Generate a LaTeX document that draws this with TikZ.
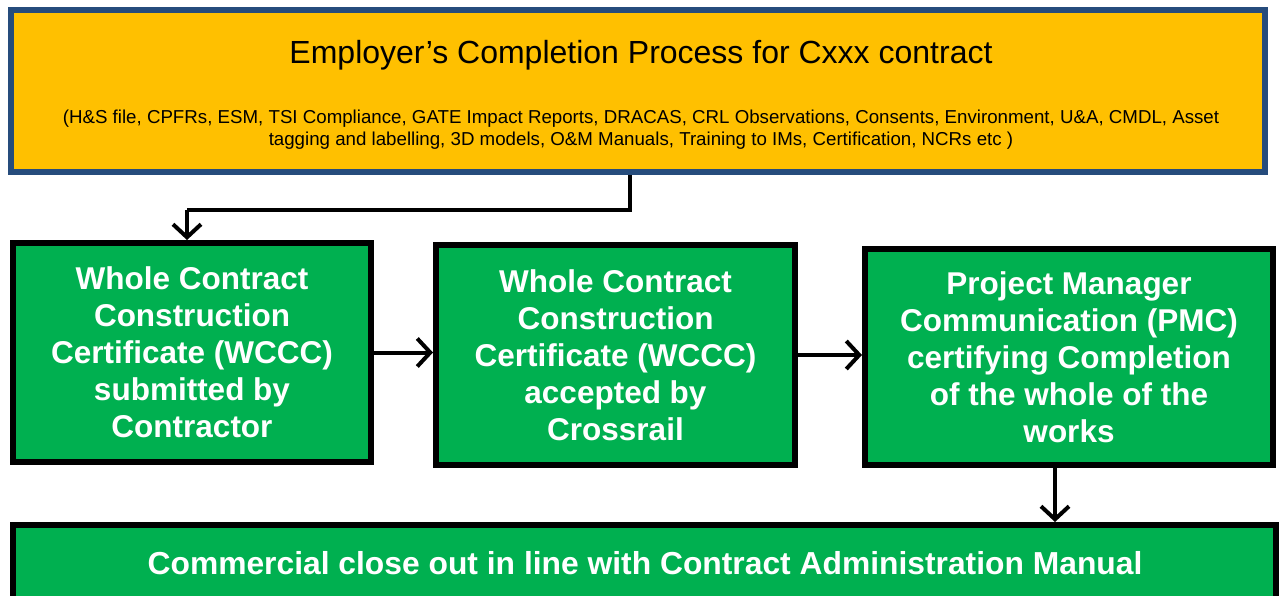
\documentclass[tikz,border=0pt]{standalone}
\usepackage{fontspec}
\setmainfont{Liberation Sans}
\usepackage{xcolor}
\usetikzlibrary{positioning,arrows.meta}

\definecolor{ecpgold}{HTML}{FFC000}
\definecolor{ecpblue}{HTML}{264C7C}
\definecolor{stagegreen}{HTML}{00B050}

\tikzset{
  stagebox/.style={draw=black, line width=6pt, fill=stagegreen, text=white,
    align=center, inner sep=0pt, font=\bfseries\fontsize{31.5}{37}\selectfont},
  flow/.style={line width=4pt, -{Straight Barb[length=13pt,width=28pt]}},
}

\begin{document}
\begin{tikzpicture}[x=1pt,y=-1pt]
\useasboundingbox (0,0) rectangle (1281,595);
\clip (0,0) rectangle (1281,595);

% Top box
\node[draw=ecpblue, line width=6pt, fill=ecpgold, minimum width=1254pt,
      minimum height=162pt, inner sep=0pt] (ecp) at (638,91) {};
\node[font=\fontsize{32}{36}\selectfont] (ecptitle) at (641,55)
  {Employer’s Completion Process for Cxxx contract};
\node[font=\fontsize{18.7}{22}\selectfont, align=center] (ecpitems) at (641,130)
  {(H\&S file, CPFRs, ESM, TSI Compliance, GATE Impact Reports, DRACAS, CRL Observations, Consents, Environment, U\&A, CMDL, Asset\\
   tagging and labelling, 3D models, O\&M Manuals, Training to IMs, Certification, NCRs etc )};

% Stages
\node[stagebox, minimum width=358pt, minimum height=219pt] (wcccsub) at (192,352.5)
  {Whole Contract\\Construction\\Certificate (WCCC)\\submitted by\\Contractor};
\node[stagebox, minimum width=359pt, minimum height=220pt] (wcccacc) at (615.5,355)
  {Whole Contract\\Construction\\Certificate (WCCC)\\accepted by\\Crossrail};
\node[stagebox, minimum width=408pt, minimum height=216pt] (pmc) at (1069,357)
  {Project Manager\\Communication (PMC)\\certifying Completion\\of the whole of the\\works};

% Close out
\node[stagebox, minimum width=1263pt, minimum height=114pt] (closeout) at (644.5,582) {};
\node[text=white, font=\bfseries\fontsize{31.8}{36}\selectfont] (closetext) at (645,563)
  {Commercial close out in line with Contract Administration Manual};

% Connectors
\coordinate (bend) at (630,210);
\coordinate (drop) at (187,210);
\coordinate (down) at (1055,0);
\draw[line width=4pt] (ecp.south -| bend) -- (bend) -- (drop);
\draw[flow] (drop) -- (drop |- wcccsub.north);
\draw[flow] (wcccsub.east) -- (wcccsub.east -| wcccacc.west);
\draw[flow] (wcccacc.east) -- (wcccacc.east -| pmc.west);
\draw[flow] (pmc.south -| down) -- (closeout.north -| down);
\end{tikzpicture}
\end{document}
